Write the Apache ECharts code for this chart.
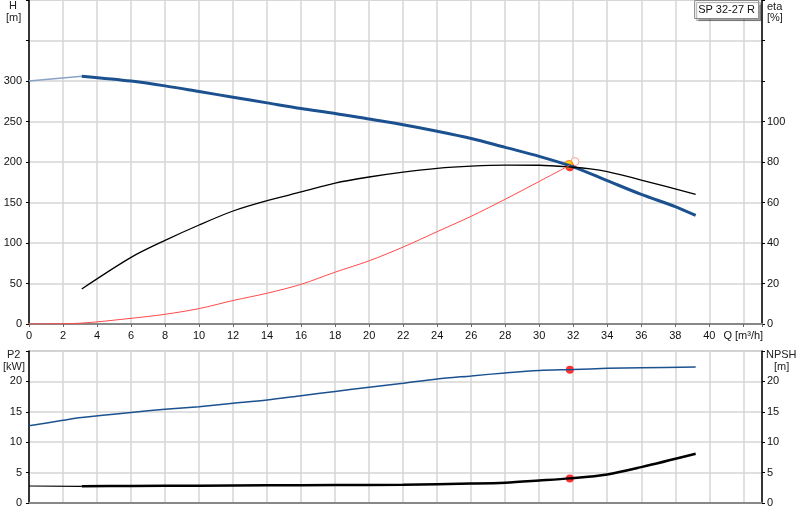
<!DOCTYPE html>
<html>
<head>
<meta charset="utf-8">
<script src="https://cdn.jsdelivr.net/npm/echarts@6/dist/echarts.min.js"></script>
<style>
  html, body { margin: 0; padding: 0; background: #fff; }
  #main { width: 800px; height: 520px; }
</style>
</head>
<body>
<div id="main"></div>
<script>
// pump curve values
var qHStart = [0, 3.1];
var hStart = [300, 306];
var qH = [3.1, 6, 8, 10, 12, 14, 16, 18, 20, 22, 24, 26, 28, 30, 32, 34, 36, 38, 39.2];
var hVals = [306, 300, 294, 287, 280, 273, 266, 260, 253, 246, 238, 229, 218, 207, 194, 177, 160, 145, 134];

var qEta = [3.1, 6, 8, 10, 12, 14, 16, 18, 20, 22, 24, 26, 28, 30, 32, 33, 34, 36, 39.2];
var etaVals = [17.3, 32.9, 41.3, 48.9, 55.8, 60.9, 65.2, 69.6, 72.6, 75, 76.9, 78, 78.5, 78.4, 77.4, 76.6, 75.2, 71.1, 64];

var qSys = [0, 3, 6, 8, 10, 12, 14, 16, 18, 20, 22, 24, 26, 28, 30, 31.8];
var sysVals = [0, 1, 7, 12, 19, 29, 38, 49, 64, 78, 95, 114, 133, 154, 176, 196];

var qP2 = [0, 2, 3.1, 6, 8, 10, 12, 14, 16, 18, 20, 22, 24, 26, 28, 30, 32, 34, 36, 39.2];
var p2Vals = [12.7, 13.6, 14.05, 14.9, 15.4, 15.85, 16.4, 16.95, 17.65, 18.35, 19.05, 19.7, 20.4, 20.9, 21.4, 21.8, 21.95, 22.15, 22.25, 22.35];

var qNpshStart = [0, 3.1];
var npshStart = [2.8, 2.75];
var qNpsh = [3.1, 6, 10, 14, 18, 22, 26, 28, 30, 31.8, 34, 36, 39.2];
var npshVals = [2.75, 2.8, 2.85, 2.9, 2.95, 3.0, 3.2, 3.35, 3.7, 4.05, 4.7, 5.9, 8.1];

// duty point
var dutyQ = 31.8;
var dutyH = 194;
var dutyHReq = 197;
var reqQ = 32.1;
var reqH = 200.5;
var dutyP2 = 21.9;
var dutyNpsh = 4.05;

function pairs(xs, ys) {
    return xs.map(function (x, i) { return [x, ys[i]]; });
}

var blue = '#1c5190';
var gridCol = '#d6d6d6';
var font = 'Liberation Sans, Arial, sans-serif';

var myChart = echarts.init(document.getElementById('main'));

var xCommon = {
    type: 'value', min: 0, max: 43.1, interval: 2,
    splitLine: { show: true, lineStyle: { color: gridCol, width: 1.5 } },
    axisTick: { show: true, length: 3, lineStyle: { color: '#666' } },
    axisLine: { lineStyle: { color: '#888', width: 2 } }
};

function yAx(grid, pos, max, step, lastLabel, grid_lines) {
    return {
        type: 'value', gridIndex: grid, position: pos, min: 0, max: max, interval: step,
        axisLine: { show: true, lineStyle: { color: '#000', width: 1.5 } },
        axisTick: { show: true, length: 3, lineStyle: { color: '#000' } },
        splitLine: { show: grid_lines, lineStyle: { color: gridCol, width: 1.5 } },
        axisLabel: { fontSize: 11, color: '#111', margin: pos === 'left' ? 7 : 5,
            formatter: function (v) { return v <= lastLabel ? v : ''; } }
    };
}

function line(name, xi, yi, xs, ys, color, width) {
    return {
        name: name, type: 'line', xAxisIndex: xi, yAxisIndex: yi, symbol: 'none',
        smooth: 0.3,
        data: pairs(xs, ys), lineStyle: { color: color, width: width }
    };
}

var option = {
    animation: false,
    textStyle: { fontFamily: font },
    title: {
        text: 'SP 32-27 R',
        right: 41, top: 0,
        padding: [4, 4, 4, 4],
        borderColor: '#888', borderWidth: 1,
        backgroundColor: '#fff',
        shadowColor: 'rgba(0,0,0,0.35)', shadowOffsetX: 2, shadowOffsetY: 2, shadowBlur: 1,
        textStyle: { fontSize: 11, fontWeight: 'normal', color: '#111', fontFamily: font }
    },
    grid: [
        { left: 29, right: 38, top: 0, height: 324, show: true, borderColor: '#bbb', borderWidth: 1 },
        { left: 29, right: 38, top: 351, height: 152, show: true, borderColor: '#999', borderWidth: 1 }
    ],
    xAxis: [
        Object.assign({}, xCommon, {
            gridIndex: 0,
            axisLabel: {
                fontSize: 11, color: '#111', margin: 6,
                formatter: function (v) { return v <= 40 ? v : (v === 42 ? 'Q [m³/h]' : ''); }
            }
        }),
        Object.assign({}, xCommon, {
            gridIndex: 1,
            axisTick: { show: false },
            axisLabel: { show: false }
        })
    ],
    yAxis: [
        yAx(0, 'left', 400, 50, 300, true),
        yAx(0, 'right', 160, 20, 100, false),
        yAx(1, 'left', 25, 5, 20, true),
        yAx(1, 'right', 25, 5, 20, false)
    ],
    graphic: [
        { type: 'text', left: 9, top: 0, style: { text: 'H', fill: '#222', font: '11px ' + font } },
        { type: 'text', left: 6, top: 12, style: { text: '[m]', fill: '#222', font: '11px ' + font } },
        { type: 'text', left: 767, top: 1, style: { text: 'eta', fill: '#222', font: '11px ' + font } },
        { type: 'text', left: 767, top: 12, style: { text: '[%]', fill: '#222', font: '11px ' + font } },
        { type: 'text', left: 7, top: 349, style: { text: 'P2', fill: '#222', font: '11px ' + font } },
        { type: 'text', left: 3, top: 361, style: { text: '[kW]', fill: '#222', font: '11px ' + font } },
        { type: 'text', left: 766, top: 349, style: { text: 'NPSH', fill: '#222', font: '11px ' + font } },
        { type: 'text', left: 774, top: 361, style: { text: '[m]', fill: '#222', font: '11px ' + font } }
    ],
    series: [
        line('H start', 0, 0, qHStart, hStart, '#8aa2c4', 1.5),
        line('H', 0, 0, qH, hVals, blue, 3),
        line('eta', 0, 1, qEta, etaVals, '#000', 1.3),
        line('system', 0, 0, qSys, sysVals, '#ff4a4a', 1),
        {
            name: 'required', type: 'scatter', xAxisIndex: 0, yAxisIndex: 0, symbolSize: 8,
            data: [[reqQ, reqH]], itemStyle: { color: '#fff', borderColor: '#ff8080', borderWidth: 1 }
        },
        {
            name: 'duty', type: 'scatter', xAxisIndex: 0, yAxisIndex: 0, symbolSize: 9,
            data: [[dutyQ, dutyH]], itemStyle: { color: '#ff0000' }
        },
        {
            name: 'duty req', type: 'scatter', xAxisIndex: 0, yAxisIndex: 0, symbolSize: 8,
            data: [[dutyQ - 0.05, dutyHReq]], itemStyle: { color: '#ffe000', borderColor: '#ff6000', borderWidth: 1 }
        },
        line('P2', 1, 2, qP2, p2Vals, blue, 1.5),
        line('NPSH start', 1, 3, qNpshStart, npshStart, '#000', 1.2),
        line('NPSH', 1, 3, qNpsh, npshVals, '#000', 2.5),
        {
            name: 'duty P2', type: 'scatter', xAxisIndex: 1, yAxisIndex: 2, symbolSize: 8,
            data: [[dutyQ, dutyP2]], itemStyle: { color: '#ff0000' }
        },
        {
            name: 'duty NPSH', type: 'scatter', xAxisIndex: 1, yAxisIndex: 3, symbolSize: 8,
            data: [[dutyQ, dutyNpsh]], itemStyle: { color: '#ff0000' }
        }
    ]
};

myChart.setOption(option);
</script>
</body>
</html>
